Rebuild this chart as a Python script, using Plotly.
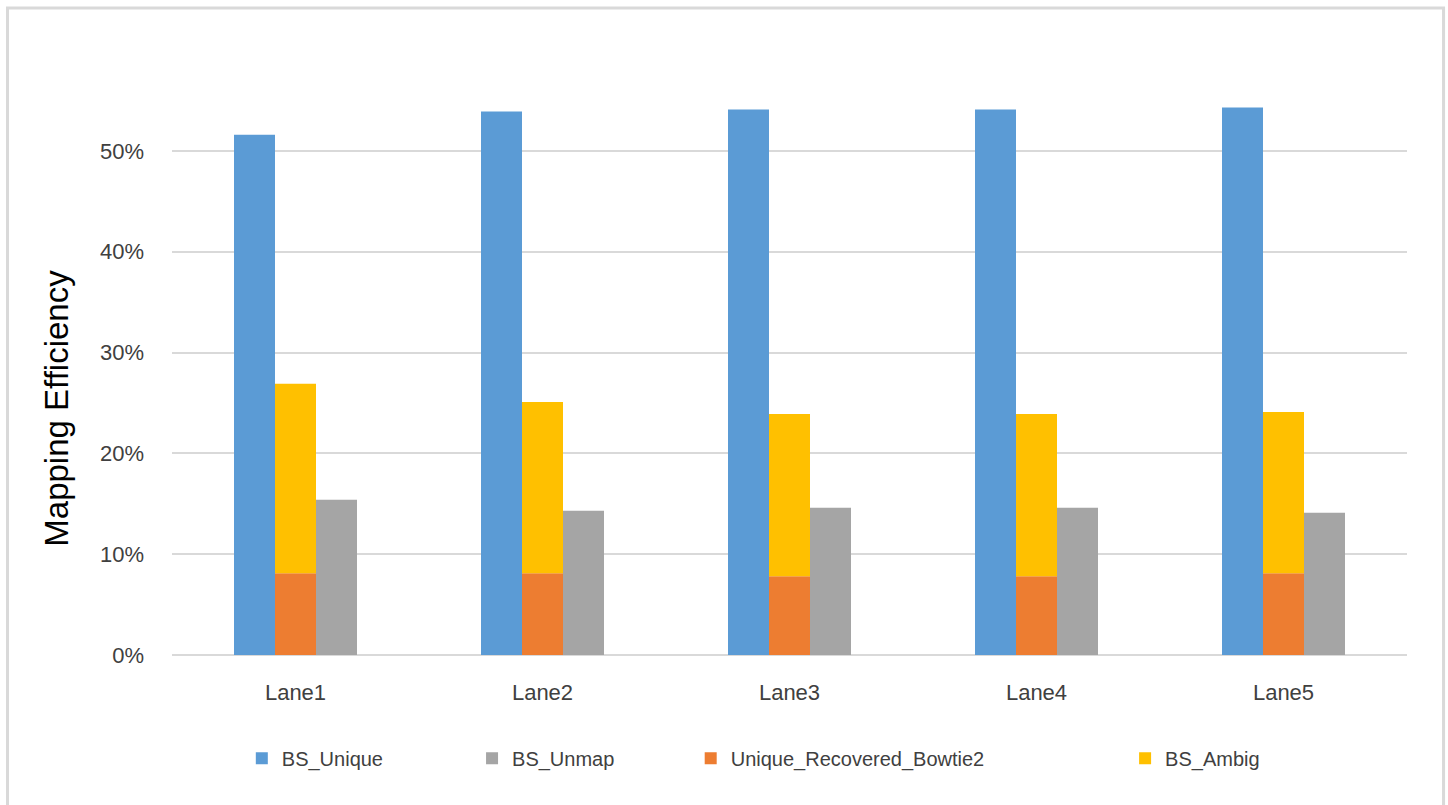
import plotly.graph_objects as go

lanes = ["Lane1", "Lane2", "Lane3", "Lane4", "Lane5"]
bs_unique = [0.516, 0.539, 0.541, 0.541, 0.543]
bs_unmap = [0.154, 0.143, 0.146, 0.146, 0.141]
recovered_bowtie2 = [0.081, 0.081, 0.078, 0.078, 0.081]
bs_ambig = [0.188, 0.170, 0.161, 0.161, 0.160]

y_ticks = [0, 0.1, 0.2, 0.3, 0.4, 0.5]
y_tick_labels = ["0%", "10%", "20%", "30%", "40%", "50%"]

FONT = "Liberation Sans, Arial, sans-serif"
W = 0.166

fig = go.Figure()
fig.add_trace(go.Bar(x=lanes, y=bs_unique, name="BS_Unique", marker_color="#5B9BD5",
                     width=W, offset=-0.249, legend="legend", showlegend=True))
fig.add_trace(go.Bar(x=lanes, y=bs_unmap, name="BS_Unmap", marker_color="#A5A5A5",
                     width=W, offset=0.083, legend="legend2", showlegend=True))
fig.add_trace(go.Bar(x=lanes, y=recovered_bowtie2, name="Unique_Recovered_Bowtie2",
                     marker_color="#ED7D31", width=W, offset=-0.083, legend="legend3",
                     showlegend=True))
fig.add_trace(go.Bar(x=lanes, y=bs_ambig, base=recovered_bowtie2, name="BS_Ambig",
                     marker_color="#FFC000", width=W, offset=-0.083, legend="legend4",
                     showlegend=True))
fig.update_traces(marker_line_width=0)

leg_common = dict(orientation="h", xref="container", yref="container", y=0.058,
                  yanchor="middle", xanchor="left", font=dict(family=FONT, size=20, color="#404040"),
                  bgcolor="rgba(0,0,0,0)")

fig.update_layout(
    width=1448, height=805,
    barmode="overlay",
    showlegend=True,
    paper_bgcolor="white", plot_bgcolor="white",
    margin=dict(l=172, r=41, t=50, b=150),
    font=dict(family=FONT, color="#404040"),
    legend=dict(x=0.167, **leg_common),
    legend2=dict(x=0.326, **leg_common),
    legend3=dict(x=0.477, **leg_common),
    legend4=dict(x=0.777, **leg_common),
    xaxis=dict(showgrid=False, showline=False, ticks="", range=[-0.5, 4.5],
               tickfont=dict(family=FONT, size=22, color="#404040"), ticklabelstandoff=22),
    yaxis=dict(range=[0, 0.6], tickvals=y_ticks, ticktext=y_tick_labels,
               showgrid=True, gridcolor="#D9D9D9", gridwidth=1.5,
               zeroline=True, zerolinecolor="#D9D9D9", zerolinewidth=1.5,
               showline=False, ticks="",
               tickfont=dict(family=FONT, size=22, color="#404040"), ticklabelstandoff=27),
    annotations=[dict(text="Mapping Efficiency", textangle=-90, xref="paper", yref="paper",
                      x=-0.0935, y=0.408, xanchor="center", yanchor="middle", showarrow=False,
                      font=dict(family=FONT, size=33, color="black"))],
    shapes=[dict(type="rect", xref="paper", yref="paper", x0=-0.1332, x1=1.0296,
                 y0=-0.27, y1=1.0694, line=dict(color="#D9D9D9", width=3),
                 fillcolor="rgba(0,0,0,0)", layer="below")],
)

fig.write_html("out.html")
